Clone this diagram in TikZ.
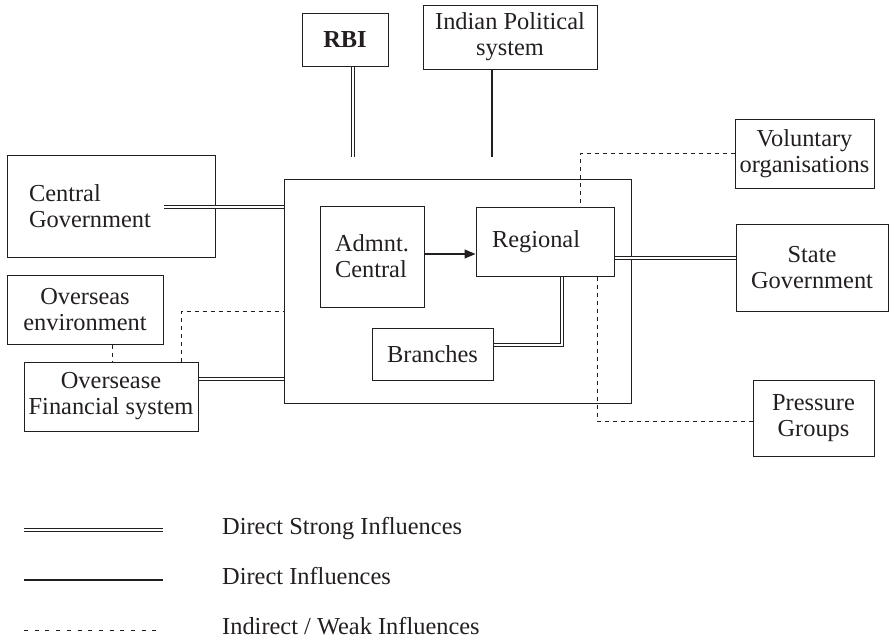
\documentclass[tikz,border=0pt]{standalone}
\usepackage{fontspec}
\setmainfont{Liberation Serif}
\usetikzlibrary{arrows.meta, calc}
\definecolor{lineMain}{HTML}{231F20}
\definecolor{textMain}{HTML}{231F20}
\tikzset{
  unitbox/.style={draw=lineMain, line width=1pt, inner sep=0pt,
    font=\fontsize{24.4}{26}\selectfont, text=textMain, align=center},
  leftbox/.style={unitbox, align=left, inner ysep=0pt},
  strongline/.style={draw=lineMain, double, double distance=1.5pt, line width=1.3pt},
  directline/.style={draw=lineMain, line width=1.1pt},
  weakline/.style={draw=lineMain, line width=1pt, dash pattern=on 4pt off 4pt},
  flowarrow/.style={-{Triangle[length=11pt, width=9pt]}, draw=lineMain, line width=1.1pt},
  legendtext/.style={font=\fontsize{24.4}{26}\selectfont, text=textMain, anchor=base west, inner sep=0pt},
}

\begin{document}
\begin{tikzpicture}[x=1pt, y=-1pt]
  \useasboundingbox (0,0) rectangle (889,643);

  % === Top: RBI and political system ===
  \node[unitbox, minimum width=86pt, minimum height=53pt] (rbi) at (345,39.5) {\textbf{RBI}};
  \node[unitbox, minimum width=174pt, minimum height=64pt] (ips) at (510,37) {Indian Political\\system};
  \coordinate (rbiEnd) at (353,157);
  \coordinate (ipsEnd) at (492,157);

  % === Centre: bank with its levels ===
  \node[unitbox, minimum width=347pt, minimum height=224pt] (bank) at (457.5,291) {};
  \node[leftbox, text width=74pt, inner xsep=15pt, minimum height=101pt] (adm) at (372,256.5) {Admnt.\\Central};
  \node[leftbox, text width=106pt, inner xsep=16pt, minimum height=69pt] (reg) at (545,241.5) {Regional};
  \node[unitbox, minimum width=121pt, minimum height=52pt] (branch) at (432.5,354) {Branches};

  % === Left side ===
  \node[leftbox, text width=164pt, inner xsep=22pt, minimum height=102pt] (cgov) at (111,206) {Central\\Government};
  \node[unitbox, minimum width=156pt, minimum height=69pt] (oenv) at (85,309.5) {Overseas\\environment};
  \node[unitbox, minimum width=174pt, minimum height=69pt] (ofin) at (111,396.5) {Oversease\\Financial system};
  \coordinate (cgovIn) at (164,207);

  % === Right side ===
  \node[unitbox, minimum width=139pt, minimum height=69pt] (vol) at (804.5,153.5) {Voluntary\\organisations};
  \node[unitbox, minimum width=152pt, minimum height=87pt] (sgov) at (812,267.5) {State\\Government};
  \node[unitbox, minimum width=121pt, minimum height=76pt] (press) at (813.5,418) {Pressure\\Groups};

  % Strong influences
  \draw[strongline] (rbiEnd |- rbi.south) -- (rbiEnd);
  \draw[strongline] (cgovIn) -- (cgovIn -| bank.west);
  \draw[strongline] ([yshift=17.5pt]ofin.east) -- ([yshift=17.5pt]ofin.east -| bank.west);
  \draw[strongline] ([yshift=-16.5pt]reg.east) -- ([yshift=-16.5pt]reg.east -| sgov.west);
  \draw[strongline] ([yshift=9pt]branch.east) -| ([xshift=17pt]reg.south);

  % Direct influences
  \draw[directline] (ipsEnd |- ips.south) -- (ipsEnd);
  \draw[flowarrow] ([yshift=2.5pt]adm.east) -- ([yshift=2.5pt]adm.east -| reg.west);

  % Weak influences
  \draw[weakline] (vol.west) -| ([xshift=35pt]reg.north);
  \draw[weakline] ([xshift=52pt]reg.south) |- ([yshift=-3pt]press.west);
  \draw[weakline] ([xshift=27pt]oenv.south) -- ([xshift=27pt]oenv.south |- ofin.north);
  \draw[weakline] ([xshift=70pt]ofin.north) |- ([yshift=-20pt]bank.west);

  % === Legend ===
  \coordinate (keyA) at (24,530);
  \coordinate (keyB) at (24,580);
  \coordinate (keyC) at (24,630);
  \draw[strongline] (keyA) -- ++(139,0);
  \draw[directline] (keyB) -- ++(139,0);
  \draw[weakline, dash pattern=on 4pt off 6.7pt] (keyC) -- ++(139,0);
  \node[legendtext] (keyAtext) at (222,534) {Direct Strong Influences};
  \node[legendtext] (keyBtext) at (222,584) {Direct Influences};
  \node[legendtext] (keyCtext) at (222,634) {Indirect / Weak Influences};

\end{tikzpicture}
\end{document}
